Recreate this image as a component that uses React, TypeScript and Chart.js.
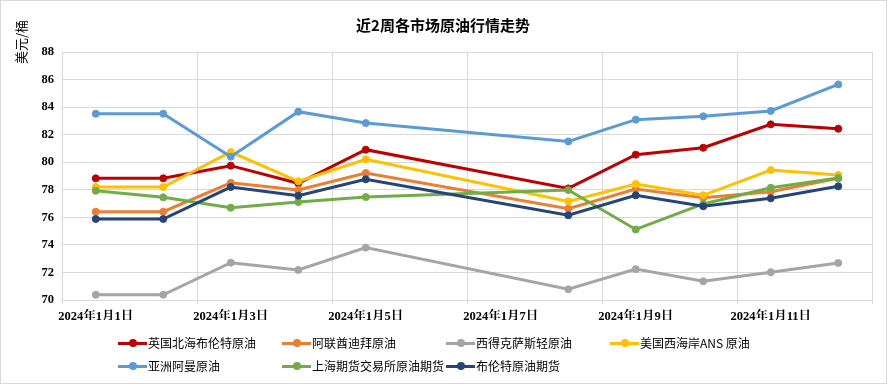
import React, { useEffect, useRef } from "react";
import { Chart, registerables } from "chart.js";

Chart.register(...registerables);

const chartTitle = "近2周各市场原油行情走势";
const yAxisTitle = "美元/桶";
const tradingDays = [1, 2, 3, 4, 5, 8, 9, 10, 11, 12];
const xTickLabels = ["2024年1月1日", "2024年1月3日", "2024年1月5日", "2024年1月7日", "2024年1月9日", "2024年1月11日"];

const seriesNames = [
  "英国北海布伦特原油",
  "阿联酋迪拜原油",
  "西得克萨斯轻原油",
  "美国西海岸ANS 原油",
  "亚洲阿曼原油",
  "上海期货交易所原油期货",
  "布伦特原油期货",
];
const brent = [78.83, 78.83, 79.75, 78.47, 80.91, 78.1, 80.55, 81.05, 82.75, 82.43];
const dubai = [76.41, 76.41, 78.51, 77.98, 79.22, 76.63, 78.06, 77.43, 77.86, 78.83];
const wti = [70.38, 70.38, 72.71, 72.18, 73.8, 70.78, 72.24, 71.36, 72.01, 72.69];
const ans = [78.2, 78.2, 80.74, 78.61, 80.21, 77.16, 78.42, 77.6, 79.43, 79.07];
const oman = [83.52, 83.52, 80.4, 83.67, 82.84, 81.51, 83.09, 83.33, 83.72, 85.65];
const shanghai = [77.93, 77.45, 76.7, 77.11, 77.47, 77.98, 75.12, 76.97, 78.15, 78.85];
const brentFutures = [75.88, 75.88, 78.2, 77.57, 78.76, 76.15, 77.6, 76.8, 77.38, 78.25];
const seriesValues = [brent, dubai, wti, ans, oman, shanghai, brentFutures];
const seriesColors = ["#C00000", "#ED7D31", "#A5A5A5", "#FFC000", "#5B9BD5", "#70AD47", "#264478"];

const W = 887;
const H = 384;
const LABEL_FONT = '"Liberation Serif", "Noto Serif CJK SC", "Noto Sans CJK SC", serif';
const CJK_FONT = '"Noto Sans CJK SC", "Noto Sans", sans-serif';

const textPlugin = {
  id: "extraText",
  afterDraw(chart: any) {
    const ctx = chart.ctx;
    ctx.save();
    ctx.fillStyle = "#000";
    ctx.font = `bold 15px ${CJK_FONT}`;
    ctx.textAlign = "center";
    ctx.textBaseline = "middle";
    ctx.fillText(chartTitle, 443, 25);
    ctx.translate(21, 42);
    ctx.rotate(-Math.PI / 2);
    ctx.font = `13px ${CJK_FONT}`;
    ctx.fillText(yAxisTitle, 0, 0);
    ctx.restore();
  },
};

export default function App() {
  const ref = useRef<HTMLCanvasElement>(null);

  useEffect(() => {
    document.body.style.margin = "0";
    const datasets = seriesNames.map((name, i) => ({
      label: name,
      data: tradingDays.map((d, j) => ({ x: d, y: seriesValues[i][j] })),
      borderColor: seriesColors[i],
      backgroundColor: seriesColors[i],
      pointBackgroundColor: seriesColors[i],
      pointBorderColor: seriesColors[i],
      borderWidth: 3,
      pointRadius: 3.5,
      pointBorderWidth: 1,
      tension: 0,
      order: seriesNames.length - i,
    }));
    const chart = new Chart(ref.current!, {
      type: "line",
      data: { datasets },
      options: {
        animation: false,
        responsive: false,
        devicePixelRatio: 1,
        layout: { padding: { top: 52, left: 0, right: 15, bottom: 64 } },
        plugins: { legend: { display: false }, tooltip: { enabled: false } },
        scales: {
          x: {
            type: "linear",
            min: 0.5,
            max: 12.5,
            afterBuildTicks: (scale: any) => {
              const t = [];
              for (let i = 0; i <= 6; i++) t.push({ value: 0.5 + 2 * i });
              scale.ticks = t;
            },
            afterFit: (scale: any) => {
              scale.height = 20;
            },
            grid: { color: "#d9d9d9", lineWidth: 1, drawTicks: true, tickLength: 4, tickColor: "#d9d9d9" },
            border: { color: "#d9d9d9", width: 1 },
            ticks: {
              autoSkip: false,
              maxRotation: 0,
              minRotation: 0,
              padding: 5,
              labelOffset: 33.75,
              color: "#000",
              font: { family: LABEL_FONT, size: 12.5, weight: "bold" },
              callback: (v: any) => {
                const idx = Math.round((Number(v) - 0.5) / 2);
                return xTickLabels[idx] ?? "";
              },
            },
          },
          y: {
            min: 70,
            max: 88,
            afterFit: (scale: any) => {
              scale.width = 62;
            },
            grid: { color: "#d9d9d9", lineWidth: 1, drawTicks: false },
            border: { color: "#d9d9d9", width: 1 },
            ticks: {
              stepSize: 2,
              padding: 8,
              color: "#000",
              font: { family: LABEL_FONT, size: 12.5, weight: "bold" },
            },
          },
        },
      },
      plugins: [textPlugin],
    } as any);
    return () => chart.destroy();
  }, []);

  const legendRows = [
    [0, 1, 2, 3],
    [4, 5, 6],
  ];

  return (
    <div style={{ position: "relative", width: W, height: H, background: "#fff", overflow: "hidden" }}>
      <canvas ref={ref} width={W} height={H} style={{ position: "absolute", left: 0, top: 0, width: W, height: H }} />
      <div
        style={{
          position: "absolute",
          left: 0,
          top: 0,
          width: W,
          height: H,
          boxSizing: "border-box",
          border: "1px solid #d9d9d9",
          pointerEvents: "none",
        }}
      />
      {legendRows.map((row, r) => (
        <div key={r} style={{ position: "absolute", left: 118, top: (r === 0 ? 343 : 366) - 9, height: 18, display: "flex" }}>
          {row.map((i) => (
            <div key={i} style={{ width: 164, display: "flex", alignItems: "center", height: 18 }}>
              <div style={{ position: "relative", width: 29, height: 18, flex: "none" }}>
                <div style={{ position: "absolute", left: 0, top: 7.5, width: 29, height: 3, background: seriesColors[i] }} />
                <div
                  style={{
                    position: "absolute",
                    left: 10.5,
                    top: 5,
                    width: 8,
                    height: 8,
                    borderRadius: 4,
                    background: seriesColors[i],
                  }}
                />
              </div>
              <span
                style={{
                  marginLeft: 1,
                  fontFamily: CJK_FONT,
                  fontSize: 12,
                  color: "#000",
                  whiteSpace: "nowrap",
                  lineHeight: "18px",
                }}
              >
                {seriesNames[i]}
              </span>
            </div>
          ))}
        </div>
      ))}
    </div>
  );
}
